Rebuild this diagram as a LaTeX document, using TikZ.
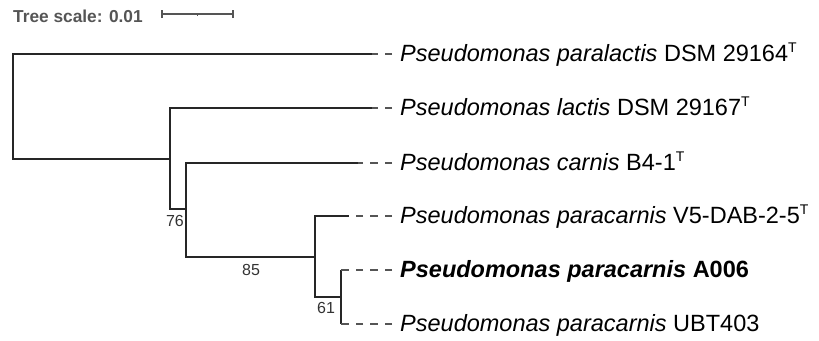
\documentclass[tikz,border=0pt]{standalone}
\usepackage{fontspec}
\setmainfont{Liberation Sans}
\definecolor{treegray}{HTML}{262626}
\definecolor{guidegray}{HTML}{555555}
\definecolor{scalegray}{HTML}{555555}
\definecolor{bootgray}{HTML}{333333}
\newcommand{\typestrain}{\raisebox{8.5pt}{\fontsize{14}{14}\selectfont T}}
\begin{document}
\begin{tikzpicture}[x=1pt,y=-1pt,
  branch/.style={draw=treegray, line width=2pt},
  guide/.style={draw=guidegray, line width=1.2pt, dash pattern=on 7.5pt off 7pt},
  leaf/.style={anchor=base west, inner sep=0pt, font=\fontsize{23.5}{27}\selectfont, text=black},
  boot/.style={anchor=base, inner sep=0pt, font=\fontsize{16}{18}\selectfont, text=bootgray},
  scalebar/.style={draw=scalegray, line width=1.3pt}]
\useasboundingbox (0,0) rectangle (819,340);

% scale
\node[anchor=base west, inner sep=0pt, text=scalegray,
      font=\fontsize{17.3}{20}\selectfont\bfseries] (scaletxt) at (13,22) {Tree scale: 0.01};
\coordinate (sbL) at (162,14);
\coordinate (sbR) at (233,14);
\coordinate (sbM) at (197.5,14);
\draw[scalebar] (sbL) -- (sbR);
\draw[scalebar] ([yshift=-4pt]sbL) -- ([yshift=4pt]sbL);
\draw[scalebar] ([yshift=-4pt]sbR) -- ([yshift=4pt]sbR);
\draw[scalebar, line width=1pt] (sbM) -- ([yshift=-2pt]sbM);

% internal nodes
\coordinate (root) at (13,106.25);
\coordinate (nA) at (170,158.5);
\coordinate (nB) at (186,209);
\coordinate (nC) at (315,257);
\coordinate (nD) at (341,297);

% leaf tips
\coordinate (t1) at (372,54);
\coordinate (t2) at (372,108);
\coordinate (t3) at (358,163);
\coordinate (t4) at (349,216);
\coordinate (t5) at (341,270);
\coordinate (t6) at (341,324);

% branches
\draw[branch] (root) |- (t1);
\draw[branch] (root) |- (nA);
\draw[branch] (nA) |- (t2);
\draw[branch] (nA) |- (nB);
\draw[branch] (nB) |- (t3);
\draw[branch] (nB) |- (nC);
\draw[branch] (nC) |- (t4);
\draw[branch] (nC) |- (nD);
\draw[branch] (nD) |- (t5);
\draw[branch] (nD) |- (t6);

% guide ends
\foreach \i/\y in {1/54,2/108,3/163,4/216,5/270,6/324}{
  \coordinate (g\i) at (392,\y);
}
\foreach \i in {1,...,6}{
  \draw[guide] (g\i) -- (t\i);
}

% leaf labels
\node[leaf] (L1) at (400,61) {\textit{Pseudomonas paralactis} DSM 29164\typestrain};
\node[leaf] (L2) at (400,115) {\textit{Pseudomonas lactis} DSM 29167\typestrain};
\node[leaf] (L3) at (400,170) {\textit{Pseudomonas carnis} B4-1\typestrain};
\node[leaf] (L4) at (400,223) {\textit{Pseudomonas paracarnis} V5-DAB-2-5\typestrain};
\node[leaf] (L5) at (400,277) {\bfseries\textit{Pseudomonas paracarnis} A006};
\node[leaf] (L6) at (400,331) {\textit{Pseudomonas paracarnis} UBT403};

% support values
\node[boot] (b76) at (175,226) {76};
\node[boot] (b85) at (251,275) {85};
\node[boot] (b61) at (326,313) {61};
\end{tikzpicture}
\end{document}
